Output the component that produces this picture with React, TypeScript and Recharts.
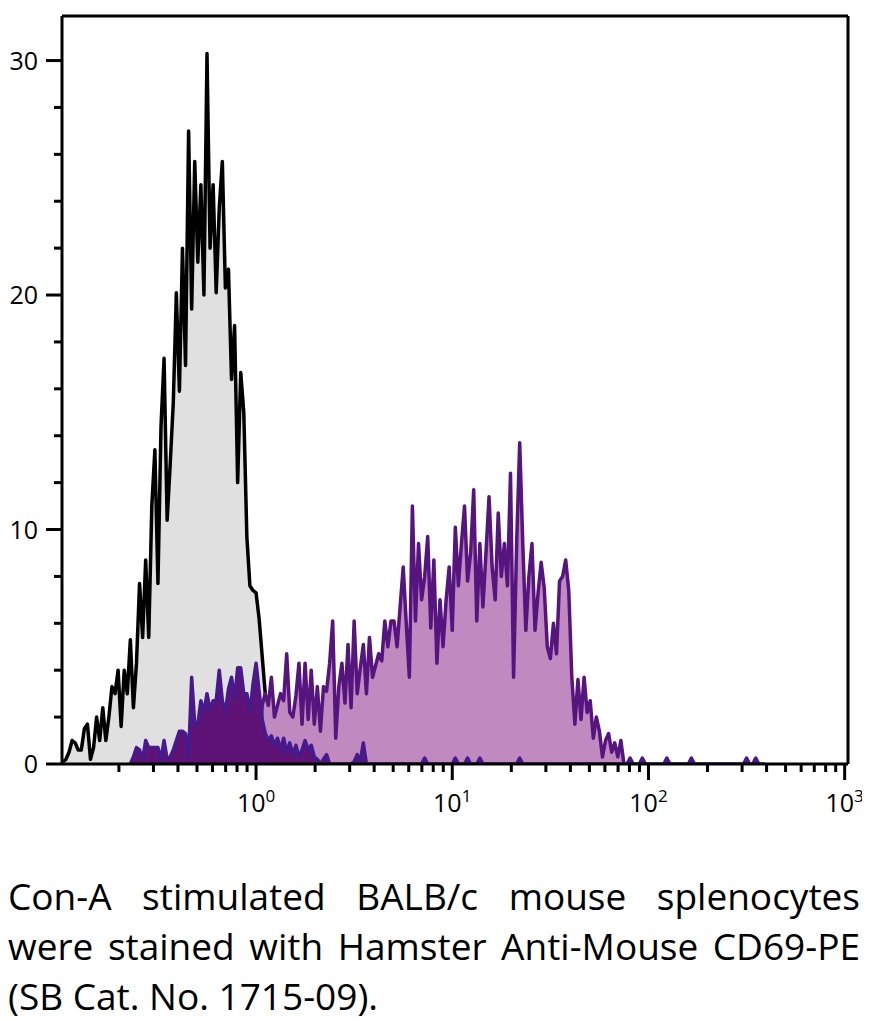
import { ComposedChart, Area, XAxis, YAxis, ReferenceLine } from 'recharts';

// channel grid: 64 channels per decade, starting at 10^-1
const BINS_PER_DECADE = 64;
const CHANNEL_COUNT = 257;
const channels = Array.from({ length: CHANNEL_COUNT }, (_, i) => 10 ** (-1 + i / BINS_PER_DECADE));

// unstained / control histogram (grey), first channel = 1
const controlStart = 1;
const controlCounts = [
  0.1, 0.2, 0.5, 1.0, 0.9, 0.6, 0.6, 1.5, 1.7, 0.2,
  0.7, 2.0, 1.0, 2.4, 1.0, 2.0, 3.3, 3.0, 4.0, 1.6,
  4.0, 3.0, 5.3, 2.4, 4.3, 7.7, 5.4, 8.7, 5.4, 11.0,
  13.4, 7.7, 14.4, 17.3, 10.4, 12.8, 15.4, 20.1, 15.9, 22.0,
  17.0, 27.0, 19.4, 25.7, 21.4, 24.7, 20.0, 30.3, 22.0, 24.7,
  20.1, 23.7, 25.7, 20.3, 21.1, 16.4, 18.7, 12.0, 16.7, 15.0,
  9.7, 7.6, 7.4, 7.3, 6.2, 4.6, 3.0, 1.5, 0,
];

// CD69-PE stained histogram (light purple), first channel = 65
const cd69Start = 65;
const cd69Counts = [
  0, 2.5, 3.0, 2.5, 3.7, 2.0, 2.5, 3.0, 2.7, 4.7,
  2.2, 2.0, 2.9, 4.3, 1.7, 4.3, 1.9, 4.0, 1.7, 3.3,
  1.4, 3.3, 3.1, 4.3, 6.1, 1.1, 3.3, 4.3, 2.6, 5.1,
  2.4, 6.1, 3.0, 4.1, 5.1, 3.0, 5.4, 3.7, 4.2, 4.7,
  4.4, 6.1, 5.0, 6.1, 6.1, 5.0, 6.7, 8.4, 6.0, 3.7,
  11.0, 6.1, 9.4, 7.0, 8.0, 9.7, 5.8, 8.7, 4.3, 7.0,
  5.0, 7.0, 8.4, 5.7, 10.1, 7.6, 9.4, 11.0, 7.8, 9.0,
  11.7, 6.1, 9.4, 6.7, 9.0, 11.4, 8.4, 7.0, 10.7, 8.0,
  9.4, 7.6, 12.4, 3.7, 9.4, 13.7, 9.4, 5.7, 8.0, 9.4,
  5.7, 7.3, 8.6, 7.5, 5.0, 4.5, 6.0, 4.7, 7.8, 8.0,
  8.7, 7.4, 3.7, 1.7, 3.6, 1.9, 3.7, 2.2, 2.7, 1.1,
  2.0, 1.4, 0.3, 1.0, 1.3, 0.5, 0.9, 0.3, 1.0, 0,
];

// dark overlay histogram, first channel = 23
const isoStart = 23;
const isoEnd = 230;
const isoCounts = [
  0, 0.3, 0.7, 0.6, 0.2, 1.0, 0.7, 0.7, 0.7, 0.7,
  0.2, 1.0, 0.2, 0.3, 0.6, 1.0, 1.4, 1.4, 1.3, 0.3,
  3.7, 1.7, 1.7, 2.7, 2.2, 3.0, 2.3, 2.7, 2.7, 4.0,
  2.7, 2.2, 3.2, 3.7, 2.8, 4.1, 4.1, 3.0, 3.0, 2.2,
  3.4, 4.3, 3.1, 1.9, 1.3, 1.0, 1.2, 0.8, 1.1, 0.6,
  1.1, 0.5, 0.9, 0.4, 0.8, 0.3, 0.6, 1.0, 0.6, 0.8,
  0.3, 0.2, 0, 0.2, 0.4, 0, 0, 0, 0, 0,
  0, 0, 0, 0.1, 0.4, 0.1, 0.9, 0,
];
// isolated single events further right
const isoEventChannels = [119, 129, 133, 137, 150, 186, 190, 198, 206, 224, 227];
const isoEventCounts = [0.25, 0.25, 0.25, 0.25, 0.25, 0.25, 0.25, 0.25, 0.25, 0.25, 0.25];

const xMin = 10 ** -0.989;
const xMax = 10 ** 3.017;
const yMax = 31.9;
const xMajorTicks = [1, 10, 100, 1000];
const xMinorTicks = [
  0.2, 0.3, 0.4, 0.5, 0.6, 0.7, 0.8, 0.9,
  2, 3, 4, 5, 6, 7, 8, 9,
  20, 30, 40, 50, 60, 70, 80, 90,
  200, 300, 400, 500, 600, 700, 800, 900,
];
const yMajorTicks = [0, 10, 20, 30];
const yMinorTicks = [2, 4, 6, 8, 12, 14, 16, 18, 22, 24, 26, 28];

const pick = (arr: number[], start: number, i: number) =>
  i >= start && i < start + arr.length ? arr[i - start] : null;

const isoValue = (i: number) => {
  const v = pick(isoCounts, isoStart, i);
  if (v !== null) return v;
  if (i < isoStart || i > isoEnd) return null;
  const k = isoEventChannels.indexOf(i);
  return k >= 0 ? isoEventCounts[k] : 0;
};

const data = channels.map((x, i) => ({
  x,
  control: pick(controlCounts, controlStart, i),
  cd69: pick(cd69Counts, cd69Start, i),
  iso: isoValue(i),
}));

const FONT = '"Open Sans", sans-serif';
const LINE_W = 3.5;

const XTick = (props: any) => {
  const { x, y, payload } = props;
  const major = xMajorTicks.includes(payload.value);
  return (
    <g>
      <line x1={x} x2={x} y1={y} y2={y + (major ? 16 : 8)} stroke="#000" strokeWidth={3} />
      {major && (
        <text x={x} y={y + 48} textAnchor="middle" fontFamily={FONT} fontSize={25} fill="#000">
          10
          <tspan dy={-10} fontSize={17}>
            {Math.round(Math.log10(payload.value))}
          </tspan>
        </text>
      )}
    </g>
  );
};

const YTick = (props: any) => {
  const { x, y, payload } = props;
  const major = yMajorTicks.includes(payload.value);
  return (
    <g>
      <line x1={x - (major ? 16 : 8)} x2={x} y1={y} y2={y} stroke="#000" strokeWidth={3} />
      {major && (
        <text x={x - 24} y={y} dy="0.36em" textAnchor="end" fontFamily={FONT} fontSize={25} fill="#000">
          {payload.value}
        </text>
      )}
    </g>
  );
};

const captionLine = (justify: boolean): React.CSSProperties => ({
  textAlign: justify ? 'justify' : 'left',
  textAlignLast: justify ? 'justify' : 'left',
  whiteSpace: 'nowrap',
});

export default function App() {
  return (
    <div style={{ width: 862 }}>
      <ComposedChart
        width={862}
        height={816}
        data={data}
        margin={{ top: 8, right: 22, left: 0, bottom: 0 }}
      >
        <Area
          type="linear"
          dataKey="control"
          stroke="#000"
          strokeWidth={LINE_W}
          strokeLinejoin="round"
          fill="#e0e0e0"
          fillOpacity={1}
          dot={false}
          activeDot={false}
          isAnimationActive={false}
        />
        <Area
          type="linear"
          dataKey="cd69"
          stroke="#56147f"
          strokeWidth={LINE_W}
          strokeLinejoin="round"
          fill="#c08ac0"
          fillOpacity={1}
          dot={false}
          activeDot={false}
          isAnimationActive={false}
        />
        <Area
          type="linear"
          dataKey="iso"
          stroke="#461a8c"
          strokeWidth={LINE_W}
          strokeLinejoin="round"
          fill="#5f1376"
          fillOpacity={1}
          dot={false}
          activeDot={false}
          isAnimationActive={false}
        />
        <ReferenceLine y={yMax} stroke="#000" strokeWidth={3} />
        <ReferenceLine x={xMax} stroke="#000" strokeWidth={3} />
        <XAxis
          dataKey="x"
          type="number"
          scale="log"
          domain={[xMin, xMax]}
          allowDataOverflow
          ticks={[...xMinorTicks, ...xMajorTicks].sort((a, b) => a - b)}
          interval={0}
          tick={<XTick />}
          tickSize={0}
          tickMargin={0}
          tickLine={false}
          axisLine={{ stroke: '#000', strokeWidth: 3 }}
          height={60}
        />
        <YAxis
          type="number"
          domain={[0, yMax]}
          allowDataOverflow
          ticks={[...yMajorTicks, ...yMinorTicks].sort((a, b) => a - b)}
          interval={0}
          tick={<YTick />}
          tickSize={0}
          tickMargin={0}
          tickLine={false}
          axisLine={{ stroke: '#000', strokeWidth: 3 }}
          width={54}
        />
      </ComposedChart>
      <div
        style={{
          width: 852,
          marginTop: 47,
          fontFamily: FONT,
          fontSize: 37,
          lineHeight: '50px',
          color: '#000',
        }}
      >
        <div style={captionLine(true)}>Con-A stimulated BALB/c mouse splenocytes</div>
        <div style={captionLine(true)}>were stained with Hamster Anti-Mouse CD69-PE</div>
        <div style={captionLine(false)}>(SB Cat. No. 1715-09).</div>
      </div>
    </div>
  );
}
